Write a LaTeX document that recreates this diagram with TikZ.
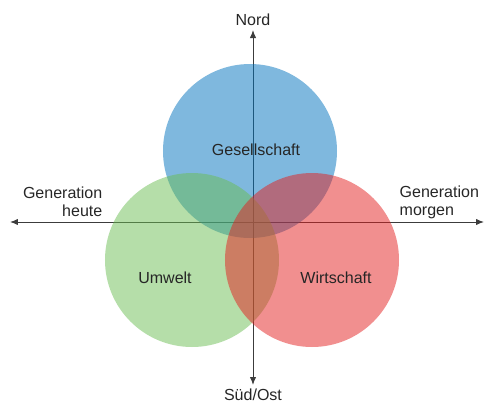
\documentclass[tikz,border=0pt]{standalone}
\usepackage{fontspec}
\setmainfont{Liberation Sans}
\usepackage{xcolor}
\usepackage{tikz}
\usetikzlibrary{arrows.meta, positioning, calc}
\definecolor{gesblue}{HTML}{0072BD}
\definecolor{umwgreen}{HTML}{6BBD53}
\definecolor{wirred}{HTML}{E31F1F}
\definecolor{axisgray}{HTML}{3C3C3C}

\begin{document}
\begin{tikzpicture}[
        setcirc/.style={circle, minimum size=4.35cm, inner sep=0pt,
                        outer sep=0pt, fill opacity=0.5},
        lbl/.style={font=\fontsize{11.4}{12.8}\selectfont, text=black!85,
                    inner sep=1pt},
        axis/.style={-{Latex[length=2mm, width=1.6mm]}, line width=0.7pt,
                     color=axisgray}
      ]
        \useasboundingbox (-6.325,-4.6) rectangle (5.825,5.55);
        % axes
        \coordinate (mid) at (0,0);
        \coordinate (west)  at (-6.075,0);
        \coordinate (east)  at (5.775,0);
        \coordinate (north) at (0,4.8);
        \coordinate (south) at (0,-4.075);
        \draw[axis] (mid) -- (west);
        \draw[axis] (mid) -- (east);
        \draw[axis] (mid) -- (north);
        \draw[axis] (mid) -- (south);
        % circles
        \node[setcirc, fill=gesblue]   (ges) at (-0.075,1.775) {};
        \node[setcirc, fill=umwgreen]  (umw) at (-1.525,-0.95) {};
        \node[setcirc, fill=wirred]    (wir) at (1.475,-0.95)  {};
        \node[lbl] (gestxt) at (0.075,1.8)  {Gesellschaft};
        \node[lbl] (umwtxt) at (-2.2,-1.4)  {Umwelt};
        \node[lbl] (wirtxt) at (2.075,-1.4) {Wirtschaft};
        % axis labels
        \node[lbl] (nord) at (0,5.05)  {Nord};
        \node[lbl] (sued) at (0,-4.33) {Süd/Ost};
        \node[lbl, align=right, anchor=east] (heute)  at (-3.725,0.5)
          {Generation\\heute};
        \node[lbl, align=left, anchor=west]  (morgen) at (3.625,0.5)
          {Generation\\morgen};
      \end{tikzpicture}
\end{document}
